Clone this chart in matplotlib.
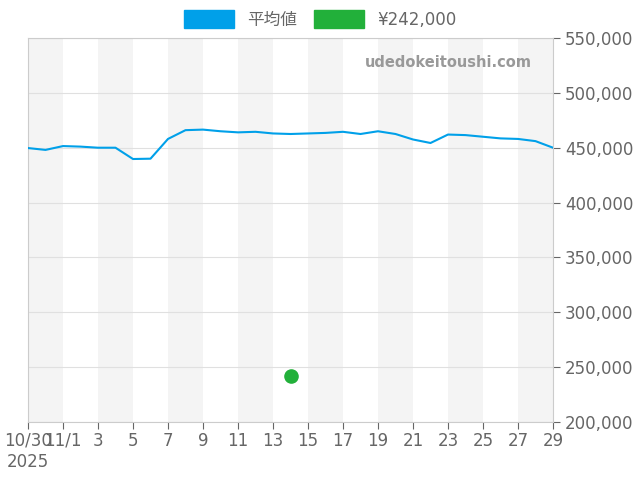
import numpy as np
import matplotlib
matplotlib.use('Agg')
import matplotlib.pyplot as plt
from matplotlib.patches import Patch

plt.rcParams['font.family'] = ['DejaVu Sans', 'Noto Sans CJK JP']

# day offsets from 10/30
days = np.arange(31)
avg = [449700, 448000, 451500, 451000, 450000, 450000, 439700, 440000, 458000, 466000,
       466500, 465000, 464000, 464500, 463000, 462500, 463000, 463500, 464500, 462500,
       465000, 462500, 457500, 454300, 462000, 461500, 460000, 458500, 458000, 456000, 450000]
point_day = 15
point_val = 242000
tick_days = [0, 2, 4, 6, 8, 10, 12, 14, 16, 18, 20, 22, 24, 26, 28, 30]
tick_labels = ['10/30\n2025', '11/1', '3', '5', '7', '9', '11', '13', '15', '17', '19',
               '21', '23', '25', '27', '29']

fig = plt.figure(figsize=(6.4, 4.8), dpi=100)
ax = fig.add_axes([28 / 640, 58 / 480, 525 / 640, 384 / 480])

for start in range(0, 30, 4):
    ax.axvspan(start, start + 2, color='#f4f4f4', zorder=0, lw=0)
ax.grid(axis='y', color='#e0e0e0', lw=0.8, zorder=1)

ax.plot(days, avg, color='#00a0e9', lw=1.5, zorder=3)
ax.scatter([point_day], [point_val], s=90, color='#22b03a', zorder=4)

ax.set_xlim(0, 30)
ax.set_ylim(200000, 550000)
ax.set_xticks(tick_days)
ax.set_xticklabels(tick_labels)
ax.yaxis.tick_right()
ax.set_yticks(np.arange(200000, 550001, 50000))
ax.yaxis.set_major_formatter(matplotlib.ticker.FuncFormatter(lambda v, p: f'{int(v):,}'))
ax.tick_params(colors='#666666', labelsize=12, length=5)
ax.tick_params(axis='x', pad=2)
for s in ax.spines.values():
    s.set_color('#cccccc')

ax.text(0.96, 0.935, 'udedokeitoushi.com', transform=ax.transAxes, ha='right', va='center',
        color='#999999', fontsize=10.5, fontweight='bold')

handles = [Patch(color='#00a0e9', label='平均値'), Patch(color='#22b03a', label='¥242,000')]
fig.legend(handles=handles, loc='upper center', bbox_to_anchor=(0.5, 1.01), ncol=2, frameon=False,
           fontsize=12, handlelength=3, handleheight=1.3, labelcolor='#666666', columnspacing=1)

fig.savefig('out.png')
